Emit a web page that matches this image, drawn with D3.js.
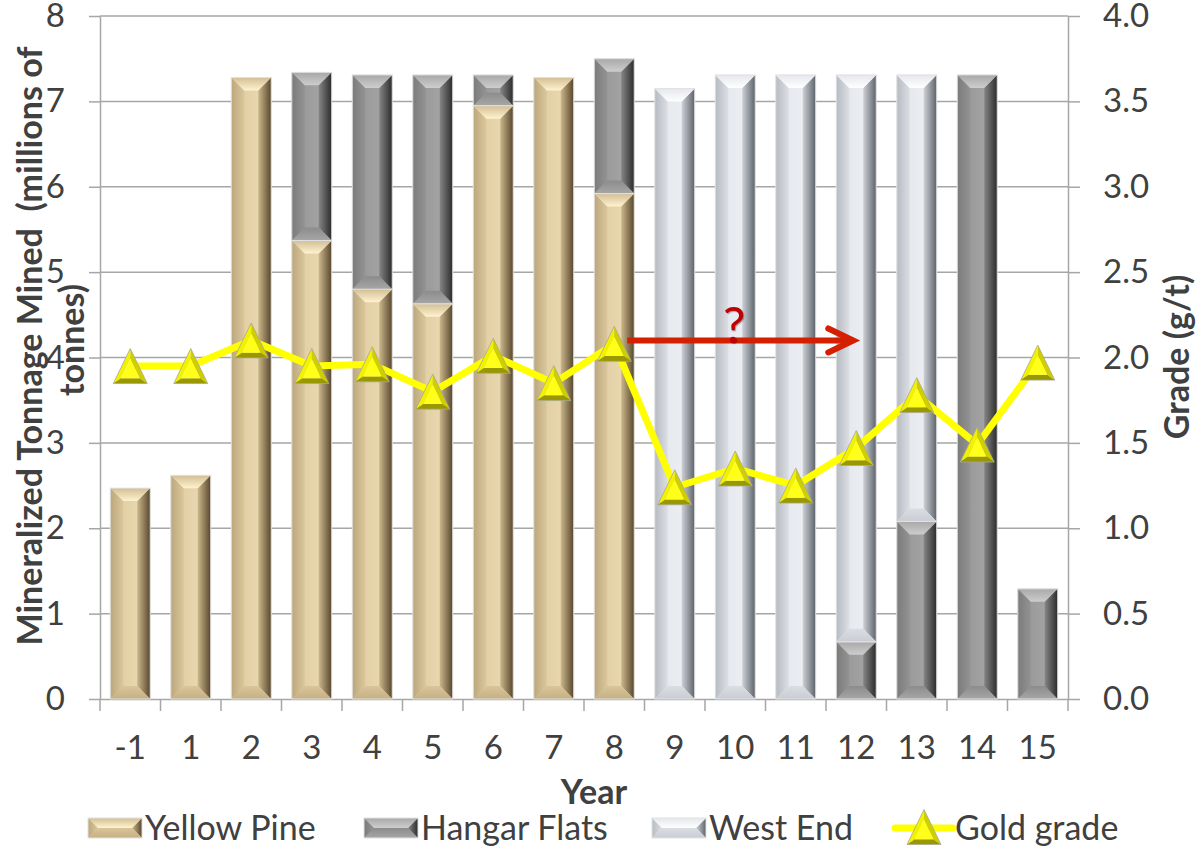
<!DOCTYPE html>
<html>
<head>
<meta charset="utf-8">
<script src="https://cdn.jsdelivr.net/npm/d3@7"></script>
<style>
  html, body { margin: 0; padding: 0; background: #ffffff; }
  svg { display: block; font-family: Lato, "Open Sans", "DejaVu Sans", sans-serif; }
</style>
</head>
<body>
<svg id="chart" width="1197" height="846"></svg>
<script>
// ---- data -------------------------------------------------------------
const years = ["-1", "1", "2", "3", "4", "5", "6", "7", "8", "9", "10", "11", "12", "13", "14", "15"];
// mineralized tonnage mined, millions of tonnes
const yellowPine  = [2.47, 2.62, 7.28, 5.37, 4.80, 4.63, 6.95, 7.28, 5.92, 0, 0, 0, 0, 0, 0, 0];
const hangarFlats = [0, 0, 0, 1.97, 2.51, 2.68, 0.36, 0, 1.58, 0, 0, 0, 0.67, 2.08, 7.31, 1.29];
const westEnd     = [0, 0, 0, 0, 0, 0, 0, 0, 0, 7.15, 7.31, 7.31, 6.64, 5.23, 0, 0];
// gold grade, g/t
const goldGrade   = [1.95, 1.95, 2.10, 1.95, 1.96, 1.80, 2.01, 1.85, 2.08, 1.24, 1.35, 1.25, 1.47, 1.78, 1.49, 1.97];
const leftTicks   = [0, 1, 2, 3, 4, 5, 6, 7, 8];
const rightTicks  = [0, 0.5, 1.0, 1.5, 2.0, 2.5, 3.0, 3.5, 4.0];
const seriesNames = ["Yellow Pine", "Hangar Flats", "West End"];
const lineName    = "Gold grade";
// open question: grade continuity from year 8 through year 12
const annotation  = { from: "8", to: "12", grade: 2.1, label: "?", labelAt: "10" };

// ---- layout -----------------------------------------------------------
const plot = { left: 100, right: 1068, top: 16, bottom: 699 };
const textColor = "#404040";
const gridColor = "#a6a6a6";
const tickFont = "33px";
const titleFont = "34px";
const legendFont = "34px";

const svg = d3.select("#chart");
const defs = svg.append("defs");

const x = d3.scaleBand().domain(years).range([plot.left, plot.right])
  .paddingInner(0.34).paddingOuter(0.17);
const yL = d3.scaleLinear().domain([0, 8]).range([plot.bottom, plot.top]);
const yR = d3.scaleLinear().domain([0, 4]).range([plot.bottom, plot.top]);
const xc = d => x(d) + x.bandwidth() / 2;

// ---- bevel palettes ---------------------------------------------------
const palettes = {
  "Yellow Pine": { id: "yp",
    body: ["#dcc89d", "#e3d0a6", "#e8d6ae", "#e0cca1"],
    left: ["#bca77d", "#dbc79c"], right: ["#cdb88c", "#56462c"],
    top: ["#d2be94", "#fff3cf"], bot: ["#d9c599", "#c4b084"] },
  "Hangar Flats": { id: "hf",
    body: ["#949494", "#9b9b9b", "#a2a2a2", "#999999"],
    left: ["#7b7b7b", "#939393"], right: ["#868686", "#2b2b2b"],
    top: ["#a8a8a8", "#cdcdcd"], bot: ["#8c8c8c", "#a6a6a6"] },
  "West End": { id: "we",
    body: ["#e0e3e8", "#e6e9ee", "#ebedf1", "#e3e6eb"],
    left: ["#b6bbc2", "#dcdfe4"], right: ["#cdd1d7", "#5e626a"],
    top: ["#e4e7ec", "#ffffff"], bot: ["#dadde2", "#c9cdd3"] }
};

function linGrad(id, stops, vertical) {
  const g = defs.append("linearGradient").attr("id", id)
    .attr("x1", 0).attr("y1", 0).attr("x2", vertical ? 0 : 1).attr("y2", vertical ? 1 : 0);
  stops.forEach((c, i) => g.append("stop")
    .attr("offset", i / (stops.length - 1)).attr("stop-color", c));
}
Object.values(palettes).forEach(p => {
  linGrad("body-" + p.id, p.body, false);
  linGrad("left-" + p.id, p.left, false);
  linGrad("right-" + p.id, p.right, false);
  linGrad("top-" + p.id, p.top, true);
  linGrad("bot-" + p.id, p.bot, true);
});

// bevelled rectangle: flat face with four angled edges
function bevelRect(g, x0, y0, w, h, p, bMax) {
  if (h <= 0) return;
  const b = Math.min(bMax, h / 2, w / 2);
  const x1 = x0 + w, y1 = y0 + h;
  const s = g.append("g");
  s.append("rect").attr("x", x0).attr("y", y0).attr("width", w).attr("height", h)
    .attr("fill", `url(#body-${p.id})`);
  s.append("path").attr("d", `M${x0},${y0}L${x0 + b},${y0 + b}L${x0 + b},${y1 - b}L${x0},${y1}Z`)
    .attr("fill", `url(#left-${p.id})`);
  s.append("path").attr("d", `M${x1},${y0}L${x1 - b},${y0 + b}L${x1 - b},${y1 - b}L${x1},${y1}Z`)
    .attr("fill", `url(#right-${p.id})`);
  s.append("path").attr("d", `M${x0},${y0}L${x1},${y0}L${x1 - b},${y0 + b}L${x0 + b},${y0 + b}Z`)
    .attr("fill", `url(#top-${p.id})`);
  s.append("path").attr("d", `M${x0},${y1}L${x1},${y1}L${x1 - b},${y1 - b}L${x0 + b},${y1 - b}Z`)
    .attr("fill", `url(#bot-${p.id})`);
  s.append("rect").attr("x", x0).attr("y", y0).attr("width", w).attr("height", h)
    .attr("fill", "none").attr("stroke", "#e2e2e2").attr("stroke-width", 1);
}

// bevelled triangle marker centred on (cx, cy)
function triMarker(g, cx, cy, w, h) {
  const A = [cx, cy - h / 2], B = [cx - w / 2, cy + h / 2], C = [cx + w / 2, cy + h / 2];
  const cen = [cx, cy + h / 6];
  const k = 0.55;
  const inner = [A, B, C].map(P => [cen[0] + (P[0] - cen[0]) * k, cen[1] + (P[1] - cen[1]) * k]);
  const [a, b, c] = inner;
  const poly = pts => "M" + pts.map(P => P.join(",")).join("L") + "Z";
  const s = g.append("g");
  s.append("path").attr("d", poly([A, B, b, a])).attr("fill", "#f2f200");
  s.append("path").attr("d", poly([A, C, c, a])).attr("fill", "#cfcf00");
  s.append("path").attr("d", poly([B, C, c, b])).attr("fill", "#9a9800");
  s.append("path").attr("d", poly([a, b, c])).attr("fill", "#ffff1a");
  s.append("path").attr("d", poly([A, B, C])).attr("fill", "none")
    .attr("stroke", "#a8a890").attr("stroke-width", 0.8);
}

// ---- gridlines --------------------------------------------------------
svg.append("g").selectAll("line").data(leftTicks.slice(1)).join("line")
  .attr("x1", plot.left).attr("x2", plot.right)
  .attr("y1", d => yL(d)).attr("y2", d => yL(d))
  .attr("stroke", gridColor).attr("stroke-width", 1.5);

// ---- axes -------------------------------------------------------------
function styleAxis(g) {
  g.selectAll("path.domain").attr("stroke", gridColor).attr("stroke-width", 1.5);
  g.selectAll(".tick line").attr("stroke", gridColor).attr("stroke-width", 1.5);
  g.selectAll(".tick text").attr("fill", textColor).style("font-size", tickFont)
    .style("font-family", "Lato, 'Open Sans', sans-serif");
}
svg.append("g").attr("transform", `translate(${plot.left},0)`)
  .call(d3.axisLeft(yL).tickValues(leftTicks).tickFormat(d3.format("d"))
    .tickSize(11).tickSizeOuter(0).tickPadding(24))
  .call(styleAxis);
svg.append("g").attr("transform", `translate(${plot.right},0)`)
  .call(d3.axisRight(yR).tickValues(rightTicks).tickFormat(d3.format(".1f"))
    .tickSize(12).tickSizeOuter(0).tickPadding(23))
  .call(styleAxis);
const xAxis = svg.append("g").attr("transform", `translate(0,${plot.bottom})`)
  .call(d3.axisBottom(x).tickSize(0).tickSizeOuter(0).tickPadding(37))
  .call(styleAxis);
// category separators on the baseline
const bounds = years.map(d => x(d) - x.step() * x.paddingInner() / 2)
  .concat([plot.right]);
bounds[0] = plot.left;
xAxis.append("g").selectAll("line").data(bounds).join("line")
  .attr("x1", d => d).attr("x2", d => d).attr("y1", 0).attr("y2", 12)
  .attr("stroke", gridColor).attr("stroke-width", 1.5);

// ---- stacked bars -----------------------------------------------------
const table = years.map((yr, i) => ({
  year: yr,
  "Yellow Pine": yellowPine[i],
  "Hangar Flats": hangarFlats[i],
  "West End": westEnd[i]
}));
const stacked = d3.stack().keys(seriesNames)(table);
const barLayer = svg.append("g");
stacked.forEach(layer => {
  const p = palettes[layer.key];
  layer.forEach(seg => {
    const top = yL(seg[1]), bottom = yL(seg[0]);
    if (bottom - top < 0.5) return;
    bevelRect(barLayer, x(seg.data.year), top, x.bandwidth(), bottom - top, p, 13);
  });
});

// ---- gold grade line --------------------------------------------------
const line = d3.line().x((d, i) => xc(years[i])).y(d => yR(d));
svg.append("path").datum(goldGrade).attr("d", line)
  .attr("fill", "none").attr("stroke", "#ffff00").attr("stroke-width", 7)
  .attr("stroke-linejoin", "round");

// ---- annotation arrow -------------------------------------------------
const arrowY = yR(annotation.grade);
const ax1 = xc(annotation.from) + 13, ax2 = xc(annotation.to) - 3;
const ann = svg.append("g");
ann.append("line").attr("x1", ax1).attr("x2", ax2).attr("y1", arrowY).attr("y2", arrowY)
  .attr("stroke", "#d42000").attr("stroke-width", 6);
ann.append("path")
  .attr("d", `M${ax2 - 25},${arrowY - 12}L${ax2},${arrowY}L${ax2 - 25},${arrowY + 12}`)
  .attr("fill", "none").attr("stroke", "#d42000").attr("stroke-width", 6)
  .attr("stroke-linecap", "round").attr("stroke-linejoin", "miter");
ann.append("text").attr("x", xc(annotation.labelAt) - 1).attr("y", arrowY + 3)
  .attr("text-anchor", "middle").attr("fill", "#c00000")
  .style("font-size", "50px").style("font-family", "Lato, sans-serif")
  .style("text-shadow", "1px 1px 1px rgba(0,0,0,0.35)")
  .text(annotation.label);

// ---- markers ----------------------------------------------------------
const markerLayer = svg.append("g");
goldGrade.forEach((v, i) => triMarker(markerLayer, xc(years[i]), yR(v), 34, 35));

// ---- axis titles ------------------------------------------------------
const titleStyle = s => s.attr("fill", textColor).style("font-weight", "700")
  .style("font-size", titleFont).style("font-family", "Lato, 'Open Sans', sans-serif")
  .style("white-space", "pre");
svg.append("text").attr("x", (plot.left + plot.right) / 2 + 10).attr("y", 804)
  .attr("text-anchor", "middle").call(titleStyle).text("Year");
svg.append("text").attr("transform", "translate(42,346) rotate(-90)")
  .attr("text-anchor", "middle").call(titleStyle)
  .text("Mineralized Tonnage Mined  (millions of");
svg.append("text").attr("transform", "translate(84,340) rotate(-90)")
  .attr("text-anchor", "middle").call(titleStyle).text("tonnes)");
svg.append("text").attr("transform", "translate(1189,357) rotate(-90)")
  .attr("text-anchor", "middle").call(titleStyle).text("Grade (g/t)");

// ---- legend -----------------------------------------------------------
const legendY = 828;
const legendX = [88, 364, 652, 895];
const legend = svg.append("g");
seriesNames.forEach((name, i) => {
  bevelRect(legend, legendX[i], legendY - 10, 54, 20, palettes[name], 10);
  legend.append("text").attr("x", legendX[i] + 57).attr("y", legendY + 12)
    .attr("fill", textColor).style("font-size", legendFont).text(name);
});
legend.append("line").attr("x1", legendX[3]).attr("x2", legendX[3] + 58)
  .attr("y1", legendY).attr("y2", legendY)
  .attr("stroke", "#ffff00").attr("stroke-width", 7).attr("stroke-linecap", "round");
triMarker(legend, legendX[3] + 29, legendY - 1, 34, 35);
legend.append("text").attr("x", legendX[3] + 60).attr("y", legendY + 12)
  .attr("fill", textColor).style("font-size", legendFont).text(lineName);
</script>
</body>
</html>
